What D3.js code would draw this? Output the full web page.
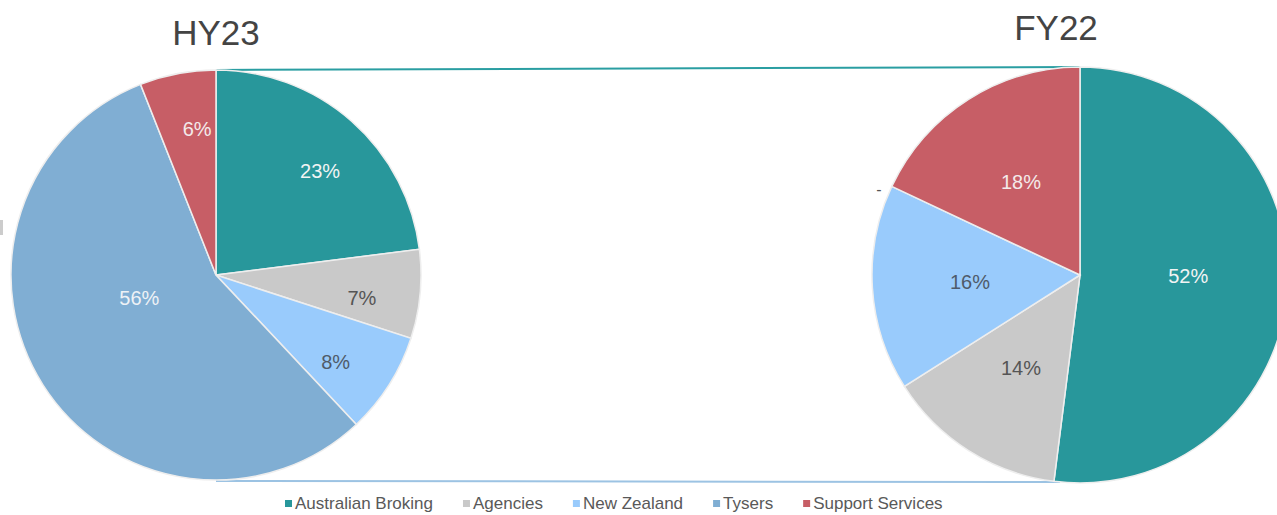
<!DOCTYPE html>
<html>
<head>
<meta charset="utf-8">
<script src="https://cdn.jsdelivr.net/npm/d3@7"></script>
<style>
  body { margin: 0; background: #fff; }
  svg { display: block; font-family: "Liberation Sans", Arial, sans-serif; }
</style>
</head>
<body>
<svg id="chart" width="1277" height="515"></svg>
<script>
const segments = ["Australian Broking", "Agencies", "New Zealand", "Tysers", "Support Services"];
const hy23Values = [23, 7, 8, 56, 6];
const fy22Values = [52, 14, 16, 0, 18];
const periods = ["HY23", "FY22"];

const segmentColors = ["#28979b", "#c9c9c9", "#99cbfc", "#80aed3", "#c75e66"];
const labelColors = ["#f2f4f4", "#555555", "#4f5b6a", "#eef2f6", "#f4eaea"];

const svg = d3.select("#chart");

// layout of the two pies
const pies = [
    {title: periods[0], values: hy23Values, cx: 216, cy: 275, r: 205, titleX: 216, titleY: 45, labelR: 0.72, bigR: 0.39, bigShift: 16},
    {title: periods[1], values: fy22Values, cx: 1080, cy: 275, r: 208, titleX: 1056, titleY: 40, labelR: 0.53, bigR: 0.52, bigShift: -3}
];

const pie = d3.pie().sort(null).value(d => d).startAngle(0).endAngle(2 * Math.PI);

function pointAt(p, angle, radius) {
    return [p.cx + radius * Math.sin(angle), p.cy - radius * Math.cos(angle)];
}

// connector lines between the pies (behind the slices)
const rightArcs = pie(pies[1].values);
const topA = pointAt(pies[0], 0, pies[0].r);
const topB = pointAt(pies[1], 0, pies[1].r);
const botA = pointAt(pies[0], Math.PI, pies[0].r);
const botB = pointAt(pies[1], rightArcs[0].endAngle - 0.03, pies[1].r);

svg.append("line")
    .attr("x1", topA[0]).attr("y1", topA[1])
    .attr("x2", topB[0]).attr("y2", topB[1])
    .attr("stroke", "#2a9ea2").attr("stroke-width", 2);

svg.append("line")
    .attr("x1", botA[0]).attr("y1", botA[1] + 1)
    .attr("x2", botB[0]).attr("y2", botB[1])
    .attr("stroke", "#9cc3e3").attr("stroke-width", 2);

pies.forEach(p => {
    const arcs = pie(p.values);
    const arc = d3.arc().innerRadius(0).outerRadius(p.r);
    const g = svg.append("g").attr("transform", `translate(${p.cx},${p.cy})`);

    g.selectAll("path")
        .data(arcs.filter(d => d.value > 0))
        .enter()
        .append("path")
        .attr("d", arc)
        .attr("fill", d => segmentColors[d.index])
        .attr("stroke", "#eeeeee")
        .attr("stroke-width", 1.5);

    g.selectAll("text.value")
        .data(arcs)
        .enter()
        .append("text")
        .attr("class", "value")
        .attr("transform", d => {
            if (d.value === 0) {
                const a = d.startAngle;
                return `translate(${(p.r + 12) * Math.sin(a) - 2},${-(p.r + 12) * Math.cos(a) + 8})`;
            }
            const big = d.value > 50;
            let a = (d.startAngle + d.endAngle) / 2 + (big ? p.bigShift * Math.PI / 180 : 0);
            // small tilt so labels sit like the office best-fit placement
            if (!big && p.labelR > 0.6) a += 0.06;
            const rr = p.r * (big ? p.bigR : p.labelR);
            return `translate(${rr * Math.sin(a)},${-rr * Math.cos(a)})`;
        })
        .attr("text-anchor", "middle")
        .attr("dy", "0.36em")
        .attr("font-size", d => d.value === 0 ? 16 : 20)
        .attr("fill", d => d.value === 0 ? "#555555" : labelColors[d.index])
        .text(d => d.value === 0 ? "-" : d.value + "%");

    svg.append("text")
        .attr("x", p.titleX)
        .attr("y", p.titleY)
        .attr("text-anchor", "middle")
        .attr("font-size", 35)
        .attr("fill", "#444444")
        .text(p.title);
});

// clipped fragment at the left edge
svg.append("rect")
    .attr("x", 0).attr("y", 220).attr("width", 3).attr("height", 15)
    .attr("fill", "#cccccc");

// legend
const legend = svg.append("g").attr("transform", "translate(285,509)");
let lx = 0;
segments.forEach((name, i) => {
    const item = legend.append("g").attr("transform", `translate(${lx},0)`);
    item.append("rect")
        .attr("x", 0).attr("y", -9)
        .attr("width", 7).attr("height", 7)
        .attr("fill", segmentColors[i]);
    const t = item.append("text")
        .attr("x", 10)
        .attr("y", 0)
        .attr("font-size", 17)
        .attr("fill", "#595959")
        .text(name);
    lx += 10 + t.node().getComputedTextLength() + 30;
});
</script>
</body>
</html>
